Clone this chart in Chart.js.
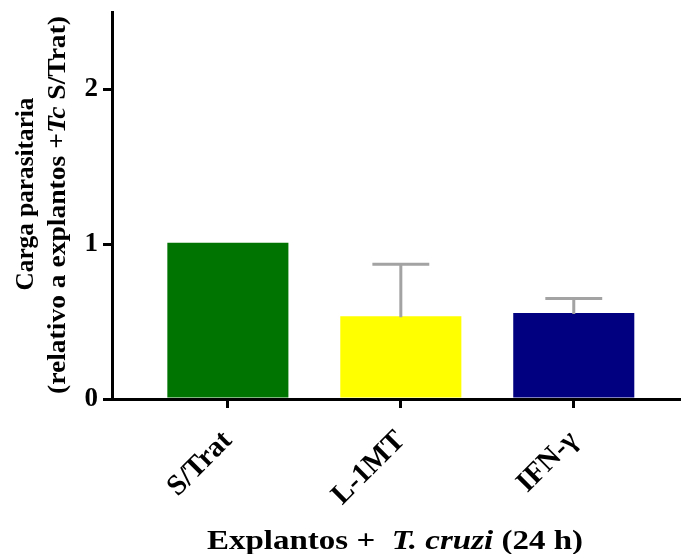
<!DOCTYPE html>
<html>
<head>
<meta charset="utf-8">
<script src="https://cdn.jsdelivr.net/npm/chart.js@4/dist/chart.umd.min.js"></script>
<style>
  html, body { margin: 0; padding: 0; background: #fff; }
  canvas { display: block; }
</style>
</head>
<body>
<canvas id="c" width="681" height="554"></canvas>
<script>
// Parasite load per treatment, relative to untreated infected explants
const categories = ['S/Trat', 'L-1MT', 'IFN-\u03b3'];
const means = [1.01, 0.535, 0.555];
const sem = [0, 0.335, 0.095];
const barColors = ['#007400', '#ffff00', '#000080'];
const yTicks = [0, 1, 2];
const yTitleLine1 = [['Carga parasitaria', false]];
const yTitleLine2 = [['(relativo a explantos +', false], ['Tc', true], [' S/Trat)', false]];
const xTitle = [['Explantos +  ', false], ['T. cruzi', true], [' (24 h)', false]];

const SERIF = '"Liberation Serif", "Times New Roman", serif';

// Draws a run of bold text pieces (some italic) centred on cx, optionally stretched to a given width
function drawRich(ctx, parts, size, cx, cy, targetWidth) {
  const fonts = parts.map(p => (p[1] ? 'italic ' : '') + 'bold ' + size + 'px ' + SERIF);
  let total = 0;
  const widths = parts.map((p, i) => { ctx.font = fonts[i]; const w = ctx.measureText(p[0]).width; total += w; return w; });
  const sx = targetWidth ? targetWidth / total : 1;
  ctx.save();
  ctx.translate(cx, cy);
  ctx.scale(sx, 1);
  let x = -total / 2;
  ctx.textBaseline = 'alphabetic';
  ctx.textAlign = 'left';
  parts.forEach((p, i) => { ctx.font = fonts[i]; ctx.fillText(p[0], x, 0); x += widths[i]; });
  ctx.restore();
}

// Error bars (upper half only) and axis titles with italic fragments
const annotations = {
  id: 'annotations',
  afterDatasetsDraw(chart) {
    const ctx = chart.ctx;
    const y = chart.scales.y;
    const meta = chart.getDatasetMeta(0);
    ctx.save();
    ctx.strokeStyle = '#a3a3a3';
    ctx.lineWidth = 3;
    meta.data.forEach((bar, i) => {
      if (!sem[i]) return;
      const top = y.getPixelForValue(means[i] + sem[i]);
      const base = y.getPixelForValue(means[i]) + 1;
      const half = bar.width * 0.235;
      ctx.beginPath();
      ctx.moveTo(bar.x, base);
      ctx.lineTo(bar.x, top);
      ctx.moveTo(bar.x - half, top);
      ctx.lineTo(bar.x + half, top);
      ctx.stroke();
    });
    ctx.restore();
  },
  afterDraw(chart) {
    const ctx = chart.ctx;
    ctx.save();
    ctx.fillStyle = '#000';
    ctx.save();
    ctx.translate(33, 194);
    ctx.rotate(-Math.PI / 2);
    drawRich(ctx, yTitleLine1, 25, 0, 0, 193);
    ctx.restore();
    ctx.save();
    ctx.translate(65, 205);
    ctx.rotate(-Math.PI / 2);
    drawRich(ctx, yTitleLine2, 25, 0, 0, 378);
    ctx.restore();
    drawRich(ctx, xTitle, 27, 395, 549, 376);
    ctx.restore();
  }
};

new Chart(document.getElementById('c'), {
  type: 'bar',
  data: {
    datasets: [{
      data: means.map((v, i) => ({ x: i, y: v })),
      backgroundColor: barColors,
      borderWidth: 0,
      barPercentage: 0.875,
      categoryPercentage: 0.8
    }]
  },
  options: {
    responsive: false,
    animation: false,
    devicePixelRatio: 1,
    layout: { padding: { top: 12, left: 0, right: 0, bottom: 0 } },
    plugins: { legend: { display: false }, tooltip: { enabled: false } },
    scales: {
      x: {
        type: 'linear',
        offset: false,
        min: -0.67,
        max: 2.62,
        afterBuildTicks(scale) { scale.ticks = categories.map((_, i) => ({ value: i })); },
        afterFit(scale) { scale.height = 155; scale.paddingLeft = 0; scale.paddingRight = 0; },
        border: { color: '#000', width: 3 },
        grid: { offset: false, drawOnChartArea: false, drawTicks: true, tickLength: 9, color: '#000', lineWidth: 3 },
        ticks: {
          minRotation: 45, maxRotation: 45, padding: 16,
          color: '#000',
          font: { family: SERIF, size: 29, weight: 'bold' },
          callback: v => categories[v]
        }
      },
      y: {
        min: 0,
        max: 2.5,
        afterBuildTicks(scale) { scale.ticks = yTicks.map(v => ({ value: v })); },
        afterFit(scale) { scale.width = 112; scale.paddingTop = 0; scale.paddingBottom = 0; },
        border: { color: '#000', width: 3 },
        grid: { drawOnChartArea: false, drawTicks: true, tickLength: 9, color: '#000', lineWidth: 3 },
        ticks: {
          padding: 5,
          color: '#000',
          font: { family: SERIF, size: 27, weight: 'bold' }
        }
      }
    }
  },
  plugins: [annotations]
});
</script>
</body>
</html>
